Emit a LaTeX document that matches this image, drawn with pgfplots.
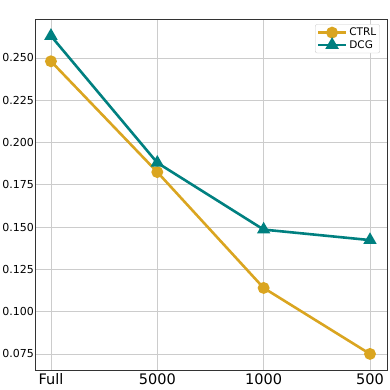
\documentclass[border=0pt]{standalone}
\usepackage{fontspec}
\setmainfont{DejaVu Sans}
\usepackage{pgfplots}
\pgfplotsset{compat=1.18}
\definecolor{ctrlc}{RGB}{218,165,32}
\definecolor{dcgc}{RGB}{0,128,128}
\begin{document}
\begin{tikzpicture}
\begin{axis}[
    scale only axis,
    width=352pt,
    height=351pt,
    xmin=-0.15, xmax=3.16,
    ymin=0.0655, ymax=0.273,
    xtick={0,1,2,3},
    xticklabels={Full,5000,1000,500},
    ytick={0.075,0.100,0.125,0.150,0.175,0.200,0.225,0.250},
    /pgf/number format/fixed,
    /pgf/number format/fixed zerofill,
    /pgf/number format/precision=3,
    /pgf/number format/assume math mode=true,
    yticklabel style={font=\fontsize{11}{12}\selectfont, inner sep=1pt},
    xticklabel style={font=\fontsize{14.5}{16}\selectfont},
    major tick length=0pt,
    grid=major,
    major grid style={gray!40, line width=0.8pt},
    axis line style={black!80, line width=0.9pt},
    legend style={at={(0.98,0.985)}, anchor=north east,
        font=\fontsize{10.5}{12}\selectfont, draw=black!20, rounded corners=2pt,
        inner sep=1.5pt, row sep=-1pt},
    legend cell align=left,
    legend image code/.code={
        \draw[mark repeat=2,mark phase=2] plot coordinates {(0pt,0pt) (14pt,0pt) (28pt,0pt)};
    },
]
\addplot[ctrlc, line width=2.6pt, mark=*, mark size=4.6pt] coordinates {
    (0,0.248) (1,0.1825) (2,0.114) (3,0.075)
};
\addplot[dcgc, line width=2.6pt, mark=triangle*, mark size=5.2pt] coordinates {
    (0,0.263) (1,0.188) (2,0.1485) (3,0.1423)
};
\legend{CTRL,DCG}
\coordinate (ll) at (rel axis cs:0,0);
\coordinate (ur) at (rel axis cs:1,1);
\end{axis}
\pgfresetboundingbox
\path ([xshift=-35pt,yshift=-20pt]ll) rectangle ([xshift=3pt,yshift=19pt]ur);
\end{tikzpicture}
\end{document}
